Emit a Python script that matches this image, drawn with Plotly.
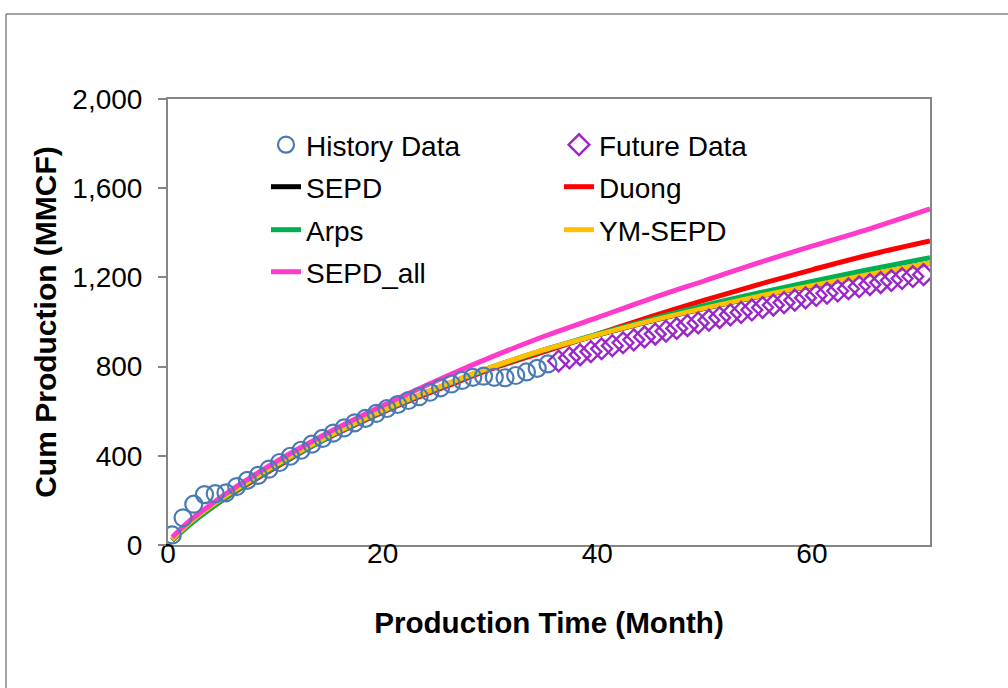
import plotly.graph_objects as go

# Observed cumulative production (MMCF) by month
hist_month = [0.4, 1.4, 2.4, 3.4, 4.4, 5.4, 6.4, 7.4, 8.4, 9.4, 10.4, 11.4,
              12.4, 13.4, 14.4, 15.4, 16.4, 17.4, 18.4, 19.4, 20.4, 21.4, 22.4, 23.4,
              24.4, 25.4, 26.4, 27.4, 28.4, 29.4, 30.4, 31.4, 32.4, 33.4, 34.4, 35.4]
hist_cum = [45, 122, 183, 226, 230, 234, 262, 290, 312, 340, 370, 398,
            425, 452, 478, 502, 525, 548, 568, 590, 612, 630, 648, 665,
            685, 705, 722, 738, 752, 757, 752, 750, 760, 776, 792, 812]

future_month = [36.4, 37.4, 38.4, 39.4, 40.4, 41.4, 42.4, 43.4, 44.4, 45.4, 46.4, 47.4,
                48.4, 49.4, 50.4, 51.4, 52.4, 53.4, 54.4, 55.4, 56.4, 57.4, 58.4, 59.4,
                60.4, 61.4, 62.4, 63.4, 64.4, 65.4, 66.4, 67.4, 68.4, 69.4, 70.4]
future_cum = [825, 839, 853, 867, 880, 894, 907, 920, 933, 946, 959, 971,
              984, 996, 1008, 1020, 1032, 1043, 1054, 1065, 1076, 1087, 1098, 1108,
              1119, 1129, 1139, 1149, 1158, 1168, 1177, 1186, 1195, 1204, 1212]

# Model forecasts sampled along the time axis
model_month = [0.4, 2, 4, 6, 8, 10, 14, 18, 22, 26, 30, 35, 40, 45, 50, 55, 60, 65, 71]
sepd = [24, 99, 174, 239, 299, 357, 464, 559, 644, 721, 794, 874, 941, 1004, 1061, 1114, 1162, 1209, 1262]
duong = [22, 92, 165, 230, 290, 347, 458, 552, 637, 713, 787, 866, 945, 1024, 1098, 1168, 1234, 1297, 1363]
arps = [20, 90, 165, 232, 294, 352, 460, 556, 642, 720, 793, 873, 945, 1012, 1074, 1130, 1182, 1232, 1288]
ym_sepd = [25, 100, 175, 240, 300, 358, 465, 560, 645, 722, 795, 875, 942, 1005, 1062, 1115, 1163, 1210, 1264]
sepd_all = [35, 108, 182, 250, 312, 372, 480, 578, 670, 758, 840, 935, 1020, 1105, 1185, 1265, 1340, 1412, 1507]

FONT = "Liberation Sans, Arial, sans-serif"
GRAY = "#868686"

# plot area: x 168..930 px, y 99..545 px
L, R, T, B = 168, 930, 99, 545
W, H = 1008, 688
pw, ph = R - L, B - T


def px(xp):
    return (xp - L) / pw


def py(yp):
    return (B - yp) / ph


# legend grid: text start per column, row centre per row
COL_TEXT = [307, 600]
ROW_MID = [147, 189, 232, 274]

fig = go.Figure()

line_series = [
    ("SEPD", sepd, "#000000", "legend3"),
    ("Duong", duong, "#FF0000", "legend4"),
    ("Arps", arps, "#00B050", "legend5"),
    ("YM-SEPD", ym_sepd, "#FFC000", "legend6"),
    ("SEPD_all", sepd_all, "#FF3BCB", "legend7"),
]
for name, vals, color, leg in line_series:
    fig.add_trace(go.Scatter(
        x=model_month, y=vals, mode="lines", name=name,
        line=dict(color=color, width=5, shape="spline"),
        legend=leg,
    ))

fig.add_trace(go.Scatter(
    x=hist_month, y=hist_cum, mode="markers", name="History Data",
    marker=dict(symbol="circle-open", size=17, color="#4A7AB4", line=dict(width=2.2)),
    legend="legend",
))
fig.add_trace(go.Scatter(
    x=future_month, y=future_cum, mode="markers", name="Future Data",
    marker=dict(symbol="diamond-open", size=16, color="#9B27C8", line=dict(width=2.4)),
    legend="legend2",
))

legend_common = dict(
    font=dict(family=FONT, size=28, color="#000000"),
    bgcolor="rgba(0,0,0,0)", borderwidth=0,
    xanchor="left", yanchor="top", orientation="v",
)
legend_cells = {
    "legend": (0, 0), "legend2": (1, 0),
    "legend3": (0, 1), "legend4": (1, 1),
    "legend5": (0, 2), "legend6": (1, 2),
    "legend7": (0, 3),
}
legend_layout = {
    key: dict(x=px(COL_TEXT[c] - 41), y=py(ROW_MID[r] - 27), **legend_common)
    for key, (c, r) in legend_cells.items()
}

# chart frame: left and top edges of the outer border
frame = [
    dict(type="line", xref="paper", yref="paper",
         x0=px(6), x1=px(6), y0=py(720), y1=py(14),
         line=dict(color=GRAY, width=1.5), layer="below"),
    dict(type="line", xref="paper", yref="paper",
         x0=px(6), x1=px(1040), y0=py(14), y1=py(14),
         line=dict(color=GRAY, width=1.5), layer="below"),
]

fig.update_layout(
    width=W, height=H,
    margin=dict(l=L, r=W - R, t=T, b=H - B, pad=0),
    paper_bgcolor="white", plot_bgcolor="white",
    font=dict(family=FONT, size=28, color="#000000"),
    showlegend=True,
    **legend_layout,
    xaxis=dict(
        range=[0, 71], tickvals=[0, 20, 40, 60], ticks="",
        ticklabelstandoff=-18,
        showline=True, linecolor=GRAY, linewidth=2, mirror=True,
        showgrid=False, zeroline=False,
        tickfont=dict(family=FONT, size=28),
        title=dict(text="<b>Production Time (Month)</b>",
                   font=dict(family=FONT, size=29.6), standoff=45),
    ),
    yaxis=dict(
        range=[0, 2000], dtick=400, tickformat=",d",
        ticks="outside", ticklen=8, tickcolor=GRAY, tickwidth=2,
        ticklabelstandoff=10,
        showline=True, linecolor=GRAY, linewidth=2, mirror=True,
        showgrid=False, zeroline=False,
        tickfont=dict(family=FONT, size=28),
        title=dict(text="<b>Cum Production (MMCF)</b>",
                   font=dict(family=FONT, size=30), standoff=7),
    ),
    shapes=frame,
)

fig.write_html("out.html")
